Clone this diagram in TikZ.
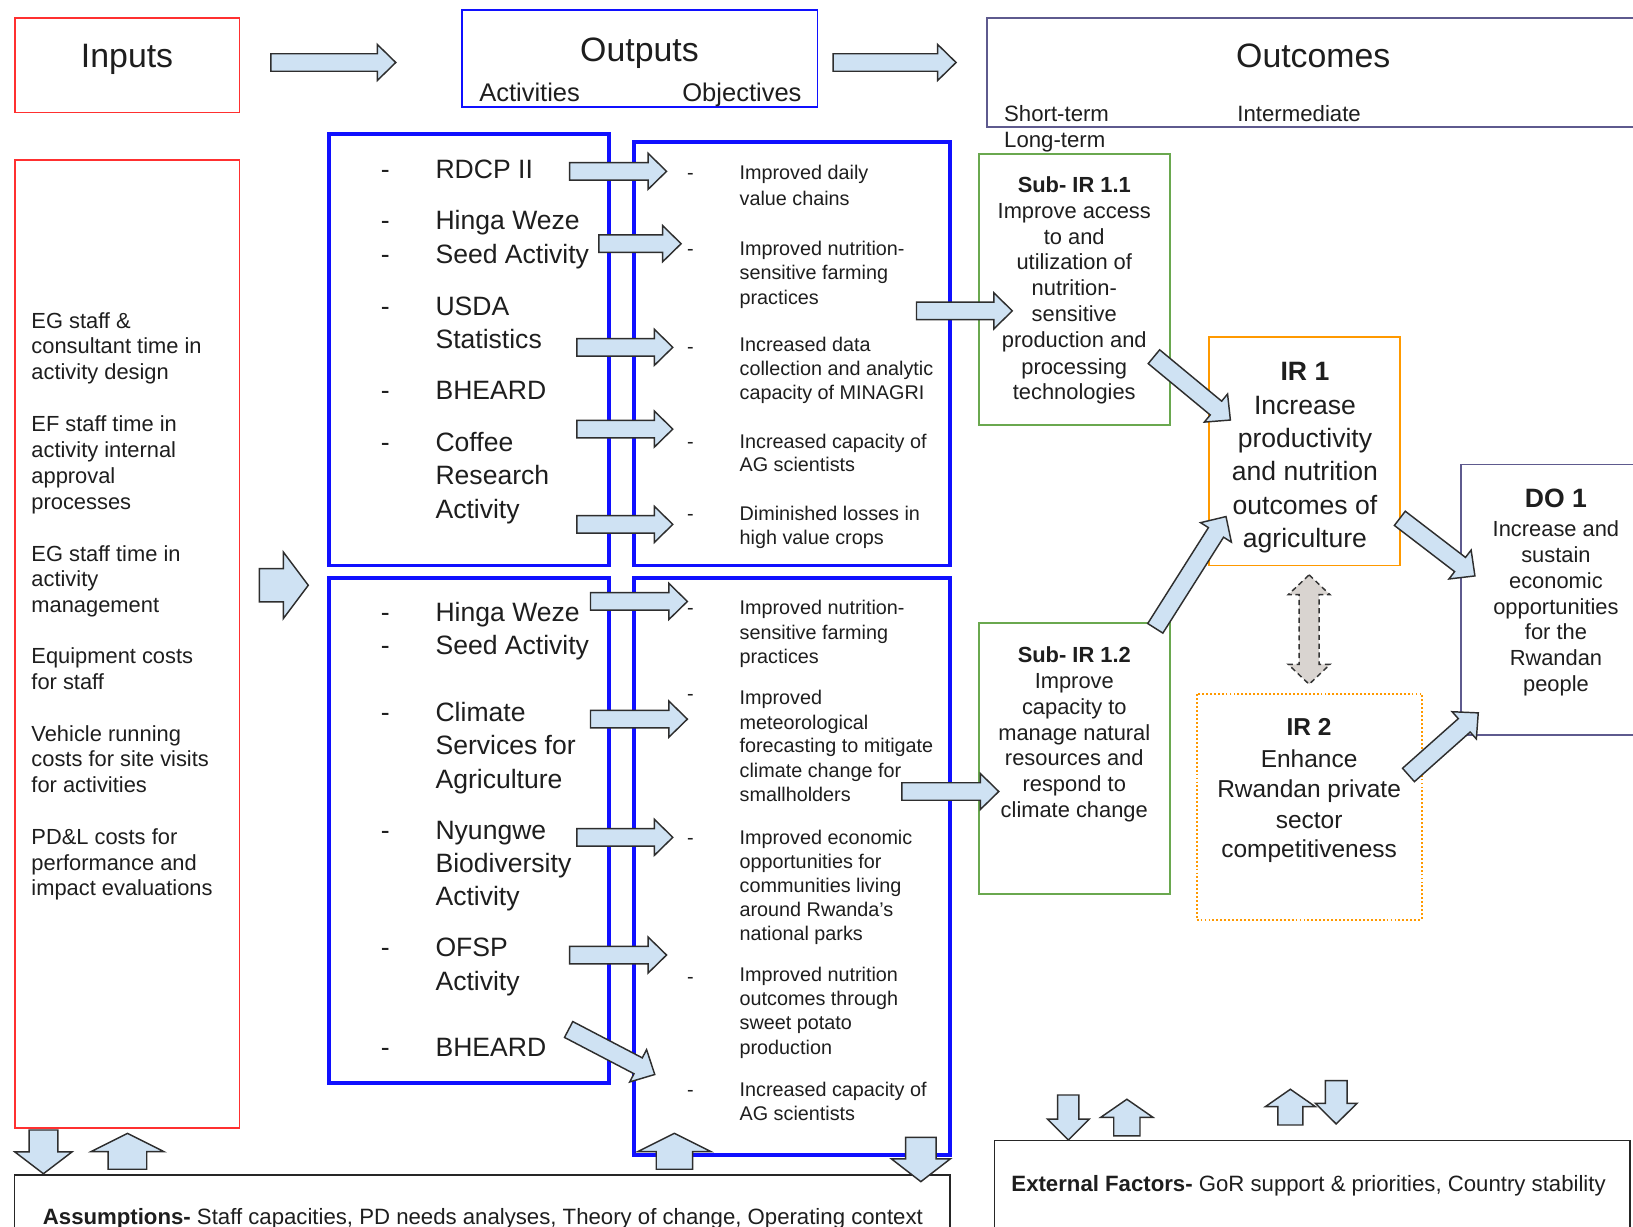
\documentclass[tikz,border=0pt]{standalone}
\usepackage{fontspec}
\setmainfont{Liberation Sans}
\usetikzlibrary{calc,fit}

\definecolor{arrowfill}{HTML}{CFE2F3}
\definecolor{arrowline}{HTML}{2E2E2E}
\definecolor{boxred}{HTML}{FF3030}
\definecolor{boxblue}{HTML}{1010FF}
\definecolor{boxgreen}{HTML}{6AA84F}
\definecolor{boxorange}{HTML}{FF9900}
\definecolor{boxpurple}{HTML}{5E5A8E}
\definecolor{linkgray}{HTML}{D9D4D0}
\definecolor{txt}{HTML}{1E1E1E}

\tikzset{
  frame/.style={draw, inner sep=0pt, line width=1.8pt},
  redframe/.style={frame, draw=boxred},
  headframe/.style={frame, draw=boxblue},
  blueframe/.style={frame, draw=boxblue, line width=3.6pt},
  greenframe/.style={frame, draw=boxgreen},
  orangeframe/.style={frame, draw=boxorange},
  purpleframe/.style={frame, draw=boxpurple},
  blackframe/.style={frame, draw=black!85, line width=1.4pt},
  fatarr/.style={fill=arrowfill, draw=arrowline, line width=1.4pt, line join=miter},
  grayarr/.style={fill=linkgray, draw=black!80, line width=1.4pt, dash pattern=on 5pt off 3.5pt},
  title/.style={text=txt, inner sep=0pt, anchor=mid, yshift=-9pt, font=\fontsize{32.5}{39}\selectfont},
  subtitle/.style={text=txt, inner sep=0pt, anchor=mid west, yshift=-6pt, font=\fontsize{24.5}{29}\selectfont},
  term/.style={text=txt, inner sep=0pt, anchor=mid west, yshift=-5pt, font=\fontsize{21.3}{25}\selectfont},
  inlist/.style={text=txt, inner sep=0pt, anchor=mid west, yshift=-5.5pt, font=\fontsize{21}{25}\selectfont},
  act/.style={text=txt, inner sep=0pt, anchor=mid west, yshift=-7pt, font=\fontsize{25.5}{32}\selectfont},
  actdash/.style={act, anchor=mid},
  obj/.style={text=txt, inner sep=0pt, anchor=mid west, yshift=-5pt, font=\fontsize{19}{23}\selectfont},
  objdash/.style={obj, anchor=mid},
  goal/.style={text=txt, inner sep=0pt, anchor=mid, yshift=-5.5pt, font=\fontsize{21}{25}\selectfont},
  goalbig/.style={goal, yshift=-1.5pt, font=\fontsize{25.5}{32}\selectfont},
  goalmid/.style={goal, yshift=-1pt, font=\fontsize{23.5}{29}\selectfont},
  foot/.style={text=txt, inner sep=0pt, anchor=mid west, yshift=-5.5pt, font=\fontsize{21.3}{25}\selectfont}
}

% block arrow from #2 to #3: shaft half width #4, head half width #5, head length #6
\newcommand\fatarrow[6][]{%
  \filldraw[fatarr,#1] ($(#2)!#4!90:(#3)$) -- ($(#3)!#6!(#2)!#4!90:(#3)$)
    -- ($(#3)!#6!(#2)!#5!90:(#3)$) -- (#3)
    -- ($(#3)!#6!(#2)!#5!-90:(#3)$) -- ($(#3)!#6!(#2)!#4!-90:(#3)$)
    -- ($(#2)!#4!-90:(#3)$) -- cycle;}

\begin{document}
\begin{tikzpicture}[x=1pt, y=-1pt]
  \useasboundingbox (0,0) rectangle (1568,1178);
  \clip (0,0) rectangle (1568,1178);
  \fill[white] (0,0) rectangle (1568,1178);

  % header row
  \node[redframe, fit={(14,17) (230,108)}] (inputs) {};
  \node[headframe, fit={(444,10) (785,103)}] (outputs) {};
  \node[purpleframe, fit={(948,17) (1600,122)}] (outcomes) {};
  \node[title] (tin) at (122,53) {Inputs};
  \node[title] (tout) at (614,47) {Outputs};
  \node[title] (toc) at (1261,53) {Outcomes};
  \node[subtitle] (tact) at (460,89) {Activities};
  \node[subtitle] (tobj) at (655,89) {Objectives};
  \node[term] (tshort) at (964,109) {Short-term};
  \node[term] (tinter) at (1188,109) {Intermediate};
  \node[term] (tlong) at (964,134) {Long-term};

  % inputs
  \node[redframe, fit={(14,154) (230,1083)}] (inlist) {};
  \foreach \y/\lbl in {307/EG staff \&, 331/consultant time in, 356/activity design,
      406/EF staff time in, 431/activity internal, 456/approval, 481/processes,
      531/EG staff time in, 555/activity, 580/management,
      629/Equipment costs, 654/for staff,
      704/Vehicle running, 728/costs for site visits, 753/for activities,
      803/PD\&L costs for, 828/performance and, 852/impact evaluations}
    \node[inlist] (in\y) at (30,\y) {\lbl};

  % activities and objectives
  \node[blueframe, fit={(316,129) (585,543)}] (acttop) {};
  \node[blueframe, fit={(609,136) (912,543)}] (objtop) {};
  \node[blueframe, fit={(316,555) (585,1040)}] (actbot) {};
  \node[blueframe, fit={(609,555) (912,1109)}] (objbot) {};
  \foreach \y in {162,211,243,293,374,424,587,619,683,796,909,1005}
    \node[actdash] (ad\y) at (370,\y) {-};
  \foreach \y/\lbl in {162/RDCP II, 211/Hinga Weze, 243/Seed Activity, 293/USDA,
      325/Statistics, 374/BHEARD, 424/Coffee, 456/Research, 488/Activity,
      587/Hinga Weze, 619/Seed Activity, 683/Climate, 715/Services for,
      747/Agriculture, 796/Nyungwe, 828/Biodiversity, 860/Activity,
      909/OFSP, 941/Activity, 1005/BHEARD}
    \node[act] (act\y) at (418,\y) {\lbl};
  \foreach \y in {165,238,332,423,492,582,665,803,937,1045}
    \node[objdash] (od\y) at (663,\y) {-};
  \foreach \y/\lbl in {165/Improved daily, 190/value chains,
      238/Improved nutrition-, 261/sensitive farming, 285/practices,
      330/Increased data, 353/collection and analytic, 376/capacity of MINAGRI,
      423/Increased capacity of, 445/AG scientists,
      492/Diminished losses in, 515/high value crops,
      582/Improved nutrition-, 606/sensitive farming, 629/practices,
      669/Improved, 693/meteorological, 715/forecasting to mitigate,
      739/climate change for, 762/smallholders,
      803/Improved economic, 826/opportunities for, 849/communities living,
      872/around Rwanda's, 895/national parks,
      935/Improved nutrition, 958/outcomes through, 981/sweet potato, 1005/production,
      1045/Increased capacity of, 1068/AG scientists}
    \node[obj] (obj\y) at (710,\y) {\lbl};

  % outcomes
  \node[greenframe, fit={(940,148) (1123,408)}] (subir11) {};
  \node[greenframe, fit={(940,598) (1123,858)}] (subir12) {};
  \node[orangeframe, fit={(1161,324) (1344,543)}] (irone) {};
  \node[orangeframe, dotted, fit={(1149,666) (1365,883)}] (irtwo) {};
  \node[purpleframe, fit={(1403,446) (1600,706)}] (doone) {};
  \foreach \y/\lbl in {177/\textbf{Sub- IR 1.1}, 202/Improve access, 227/to and,
      251/utilization of, 276/nutrition-, 301/sensitive, 326/production and,
      351/processing, 375/technologies}
    \node[goal] (sa\y) at (1031.5,\y) {\lbl};
  \foreach \y/\lbl in {628/\textbf{Sub- IR 1.2}, 653/Improve, 678/capacity to,
      703/manage natural, 727/resources and, 752/respond to, 777/climate change}
    \node[goal] (sb\y) at (1031.5,\y) {\lbl};
  \foreach \y/\lbl in {356/\textbf{IR 1}, 388/Increase, 420/productivity,
      452/and nutrition, 484/outcomes of, 516/agriculture}
    \node[goalbig] (ia\y) at (1253,\y) {\lbl};
  \foreach \y/\lbl in {697/\textbf{IR 2}, 728/Enhance, 757/Rwandan private,
      786/sector, 814/competitiveness}
    \node[goalmid] (ib\y) at (1257,\y) {\lbl};
  \node[goalbig] (do478) at (1494,478) {\textbf{DO 1}};
  \foreach \y/\lbl in {507/Increase and, 532/sustain, 557/economic,
      582/opportunities, 606/for the, 631/Rwandan, 656/people}
    \node[goal] (do\y) at (1494,\y) {\lbl};

  % assumptions and external factors
  \node[blackframe, fit={(14,1128) (912,1200)}] (assume) {};
  \node[blackframe, fit={(955,1095) (1565,1200)}] (factors) {};
  \node[foot] (tassume) at (41,1168) {\textbf{Assumptions-} Staff capacities, PD needs analyses, Theory of change, Operating context};
  \node[foot] (tfactors) at (971,1136) {\textbf{External Factors-} GoR support \& priorities, Country stability};

  % horizontal arrows
  \foreach \n/\xs/\xe/\y in {io/260/380/60, oo/800/918/60,
      a1/547/640/164.5, a2/575/654/234, a3/554/646/333.5, a4/554/646/412,
      a5/554/646/503.5, b1/567/660/577.5, b2/567/660/690.5, b3/554/646/804,
      b4/547/640/917, c1/880/972/298.5, c2/866/959/760}{
    \coordinate (s\n) at (\xs,\y);
    \coordinate (e\n) at (\xe,\y);
    \fatarrow{s\n}{e\n}{8.4pt}{17.3pt}{17.7pt}
  }
  \coordinate (sin) at (249,562);
  \coordinate (ein) at (296,562);
  \fatarrow{sin}{ein}{16pt}{32pt}{24pt}

  % slanted arrows
  \coordinate (sb5) at (546,988.5);   \coordinate (eb5) at (628.7,1031.7);
  \coordinate (sd1) at (1108,342.5);  \coordinate (ed1) at (1181.4,403.3);
  \coordinate (sd2) at (1109.3,603.3);\coordinate (ed2) at (1177.2,496);
  \coordinate (sd3) at (1344.1,497.7);\coordinate (ed3) at (1416.2,553);
  \coordinate (sd4) at (1352.4,744.1);\coordinate (ed4) at (1419.4,684.5);
  \foreach \n in {b5,d1,d2,d3,d4}
    \fatarrow{s\n}{e\n}{8.6pt}{17.5pt}{18pt};

  % up and down arrows at the bottom
  \foreach \n/\x/\ys/\ye/\sw/\hw/\hl in {v1/41.7/1085/1127/13.8/27.5/21,
      v2/122.4/1122.7/1088.2/18.5/35/17.6, v3/647.6/1122.7/1088.2/17.5/35.2/17.6,
      v4/884.2/1092/1134.6/14.7/28.2/21.8, e1/1025.8/1051.4/1094.6/10.2/20/20,
      e2/1082/1090.7/1055.5/12.6/25/17.3, e3/1239/1080.2/1045.9/12/24/16.7,
      e4/1283/1037.6/1079.2/10.4/20/19.8}{
    \coordinate (s\n) at (\x,\ys);
    \coordinate (e\n) at (\x,\ye);
    \fatarrow{s\n}{e\n}{\sw pt}{\hw pt}{\hl pt}
  }

  % link between IR 1 and IR 2
  \coordinate (gtop) at (1257,552);
  \coordinate (gbot) at (1257,657);
  \filldraw[grayarr] (gtop) -- ++(20,19) -- ++(-10.4,0) -- ++(0,67) -- ++(10.4,0)
    -- (gbot) -- ++(-20,-19) -- ++(10.4,0) -- ++(0,-67) -- ++(-10.4,0) -- cycle;
\end{tikzpicture}
\end{document}
